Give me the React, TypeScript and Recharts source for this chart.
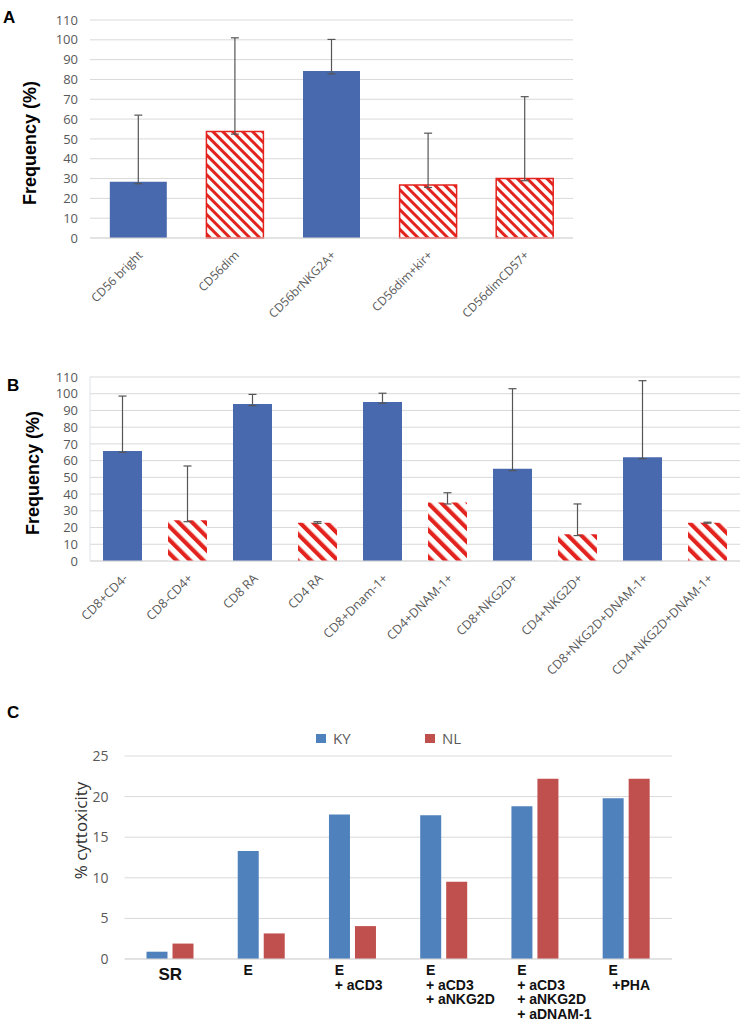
import React from 'react';
import { BarChart, Bar, XAxis, YAxis, CartesianGrid, Cell, ErrorBar, Legend, Label } from 'recharts';

// Panel A - NK cell subsets
const nkSubsets = ['CD56 bright', 'CD56dim', 'CD56brNKG2A+', 'CD56dim+kir+', 'CD56dimCD57+'];
const nkGroup = ['bright', 'dim', 'bright', 'dim', 'dim'];
const nkFreq = [28.4, 53.7, 84.3, 26.7, 30];
const nkErrLow = [1, 1.3, 1.5, 1.2, 1.1];
const nkErrHigh = [33.6, 47.3, 15.9, 26.2, 41.3];

// Panel B - T cell subsets
const tSubsets = [
  'CD8+CD4-', 'CD8-CD4+', 'CD8 RA', 'CD4 RA', 'CD8+Dnam-1+',
  'CD4+DNAM-1+', 'CD8+NKG2D+', 'CD4+NKG2D+', 'CD8+NKG2D+DNAM-1+', 'CD4+NKG2D+DNAM-1+',
];
const tLineage = ['CD8', 'CD4', 'CD8', 'CD4', 'CD8', 'CD4', 'CD8', 'CD4', 'CD8', 'CD4'];
const tFreq = [65.8, 24.3, 93.9, 22.9, 95.0, 34.9, 55.2, 16.0, 62.0, 22.9];
const tErrLow = [0.8, 0.8, 1.0, 0.4, 0.7, 0.8, 1.2, 0.8, 0.8, 0.3];
const tErrHigh = [32.8, 32.5, 5.7, 0.6, 5.3, 5.9, 47.8, 18.1, 45.8, 0.3];

const freqTicks = [0, 10, 20, 30, 40, 50, 60, 70, 80, 90, 100, 110];

// Panel C - cytotoxicity
const conditions = ['SR', 'E', 'E\n+ aCD3', 'E\n+ aCD3\n+ aNKG2D', 'E\n+ aCD3\n+ aNKG2D\n+ aDNAM-1', 'E\n +PHA'];
const kyCyto = [0.9, 13.3, 17.8, 17.7, 18.8, 19.8];
const nlCyto = [1.9, 3.15, 4.05, 9.5, 22.2, 22.2];
const cytoTicks = [0, 5, 10, 15, 20, 25];

const BLUE = '#4869ad';
const RED = '#e3231e';
const GRID = '#d9d9d9';
const TICK = '#595959';
const SANS = '"Open Sans", "Liberation Sans", Arial, sans-serif';
const ARIAL = '"Liberation Sans", Arial, sans-serif';

const nkData = nkSubsets.map((name, i) => ({
  name,
  group: nkGroup[i],
  value: nkFreq[i],
  err: [nkErrLow[i], nkErrHigh[i]],
}));

const tData = tSubsets.map((name, i) => ({
  name,
  lineage: tLineage[i],
  value: tFreq[i],
  err: [tErrLow[i], tErrHigh[i]],
}));

const cytoData = conditions.map((name, i) => ({ name, KY: kyCyto[i], NL: nlCyto[i] }));

const angledTick = (dx: number, dy: number, fontSize: number) => (props: any) => {
  const { x, y, payload } = props;
  return (
    <g transform={`translate(${x + dx},${y + dy})`}>
      <text textAnchor="end" transform="rotate(-45)" dy="0.35em" fill={TICK} fontSize={fontSize} fontFamily={SANS}>
        {payload.value}
      </text>
    </g>
  );
};

const axisTitle = (text: string, dx: number, dy: number, fontSize: number, bold: boolean, fill: string, family: string) =>
  (props: any) => {
    const vb = props.viewBox;
    const cx = vb.x + dx;
    const cy = vb.y + vb.height / 2 + dy;
    return (
      <text
        x={cx}
        y={cy}
        transform={`rotate(-90 ${cx} ${cy})`}
        textAnchor="middle"
        dominantBaseline="central"
        fontSize={fontSize}
        fontWeight={bold ? 700 : 400}
        fill={fill}
        fontFamily={family}
      >
        {text}
      </text>
    );
  };

const conditionTick = (props: any) => {
  const { x, y, payload } = props;
  const lines = String(payload.value).split('\n');
  if (lines.length === 1 && lines[0].length > 1) {
    return (
      <text x={x} y={y + 21} textAnchor="middle" fontSize={17} fontWeight={700} fill="#111" fontFamily={ARIAL}>
        {lines[0]}
      </text>
    );
  }
  return (
    <text x={x - 18} y={y + 16} textAnchor="start" fontSize={14} fontWeight={700} fill="#111" fontFamily={ARIAL} style={{ whiteSpace: 'pre' }}>
      {lines.map((l, i) => (
        <tspan key={i} x={x - 18} dy={i === 0 ? 0 : 14.5}>
          {l}
        </tspan>
      ))}
    </text>
  );
};

const cytoLegend = (props: any) => (
  <div style={{ display: 'flex', marginLeft: 316, height: 28, paddingTop: 2, boxSizing: 'border-box', fontFamily: SANS, fontSize: 15, color: TICK }}>
    {(props.payload || []).map((p: any) => (
      <div key={p.value} style={{ display: 'flex', alignItems: 'center', width: 109, height: 16 }}>
        <span style={{ display: 'inline-block', width: 10, height: 9, background: p.color, marginRight: 7 }} />
        <span style={{ lineHeight: '16px' }}>{p.value}</span>
      </div>
    ))}
  </div>
);

const letter = (text: string, left: number, top: number) => (
  <div style={{ position: 'absolute', left, top, fontFamily: ARIAL, fontWeight: 700, fontSize: 17, lineHeight: '17px', color: '#000' }}>
    {text}
  </div>
);

export default function App() {
  return (
    <div style={{ position: 'absolute', left: 0, top: 0, width: 742, height: 1020, background: '#fff', overflow: 'hidden' }}>
      <svg width={0} height={0} style={{ position: 'absolute' }}>
        <defs>
          <pattern id="hatchA" patternUnits="userSpaceOnUse" width={7} height={7} patternTransform="rotate(-45)">
            <rect width={7} height={7} fill="#fff" />
            <rect width={3} height={7} fill={RED} />
          </pattern>
          <pattern id="hatchB" patternUnits="userSpaceOnUse" width={9.5} height={9.5} patternTransform="rotate(-45)">
            <rect width={9.5} height={9.5} fill="#fff" />
            <rect width={4.2} height={9.5} fill={RED} />
          </pattern>
        </defs>
      </svg>

      {letter('A', 3, 9)}
      <div style={{ position: 'absolute', left: 0, top: 0 }}>
        <BarChart width={742} height={330} data={nkData} margin={{ top: 20, right: 169, bottom: 0, left: 0 }} barCategoryGap="20.5%">
          <CartesianGrid vertical={false} stroke={GRID} />
          <XAxis
            dataKey="name"
            interval={0}
            tickLine={false}
            tickSize={0}
            tickMargin={0}
            axisLine={{ stroke: GRID }}
            height={92}
            tick={angledTick(2, 15, 12)}
          />
          <YAxis
            domain={[0, 110]}
            ticks={freqTicks}
            interval={0}
            width={90}
            axisLine={false}
            tickLine={false}
            tickSize={0}
            tickMargin={12}
            tick={{ fill: TICK, fontSize: 13, fontFamily: SANS }}
          >
            <Label content={axisTitle('Frequency (%)', 30, 14, 18, true, '#000', ARIAL)} />
          </YAxis>
          <Bar dataKey="value" isAnimationActive={false}>
            {nkData.map((d) => (
              <Cell
                key={d.name}
                fill={d.group === 'dim' ? 'url(#hatchA)' : BLUE}
                stroke={d.group === 'dim' ? RED : 'none'}
                strokeWidth={d.group === 'dim' ? 1.5 : 0}
              />
            ))}
            <ErrorBar dataKey="err" width={4} stroke="#555" strokeWidth={1.2} direction="y" />
          </Bar>
        </BarChart>
      </div>

      {letter('B', 7, 377)}
      <div style={{ position: 'absolute', left: 0, top: 360 }}>
        <BarChart width={742} height={330} data={tData} margin={{ top: 17, right: 2, bottom: 0, left: 0 }} barCategoryGap="20%">
          <CartesianGrid vertical={false} stroke={GRID} />
          <XAxis
            dataKey="name"
            interval={0}
            tickLine={false}
            tickSize={0}
            tickMargin={0}
            axisLine={{ stroke: GRID }}
            height={129}
            tick={angledTick(3, 15, 12.5)}
          />
          <YAxis
            domain={[0, 110]}
            ticks={freqTicks}
            interval={0}
            width={90}
            axisLine={{ stroke: '#dde2ea' }}
            tickLine={false}
            tickSize={0}
            tickMargin={12}
            tick={{ fill: TICK, fontSize: 13, fontFamily: SANS }}
          >
            <Label content={axisTitle('Frequency (%)', 33, 4, 18, true, '#000', ARIAL)} />
          </YAxis>
          <YAxis
            yAxisId="frame"
            orientation="right"
            domain={[0, 110]}
            width={0}
            tick={false}
            tickLine={false}
            axisLine={{ stroke: '#dde2ea' }}
          />
          <Bar dataKey="value" isAnimationActive={false}>
            {tData.map((d) => (
              <Cell key={d.name} fill={d.lineage === 'CD4' ? 'url(#hatchB)' : BLUE} />
            ))}
            <ErrorBar dataKey="err" width={4} stroke="#555" strokeWidth={1.2} direction="y" />
          </Bar>
        </BarChart>
      </div>

      {letter('C', 7, 704)}
      <div style={{ position: 'absolute', left: 0, top: 720 }}>
        <BarChart width={742} height={300} data={cytoData} margin={{ top: 8, right: 70, bottom: 0, left: 0 }} barCategoryGap="24%" barGap={5}>
          <CartesianGrid vertical={false} stroke={GRID} />
          <Legend verticalAlign="top" content={cytoLegend} wrapperStyle={{ left: 0, width: 742 }} />
          <XAxis
            dataKey="name"
            interval={0}
            tickLine={false}
            tickSize={0}
            tickMargin={0}
            axisLine={{ stroke: GRID }}
            height={61}
            tick={conditionTick}
          />
          <YAxis
            domain={[0, 25]}
            ticks={cytoTicks}
            interval={0}
            width={124.6}
            axisLine={false}
            tickLine={false}
            tickSize={0}
            tickMargin={16}
            tick={{ fill: TICK, fontSize: 14, fontFamily: SANS }}
          >
            <Label content={axisTitle('% cyttoxicity', 80, -27, 17, false, '#333', SANS)} />
          </YAxis>
          <Bar dataKey="KY" name="KY" fill="#4f81bd" isAnimationActive={false} />
          <Bar dataKey="NL" name="NL" fill="#c0504d" isAnimationActive={false} />
        </BarChart>
      </div>
    </div>
  );
}
